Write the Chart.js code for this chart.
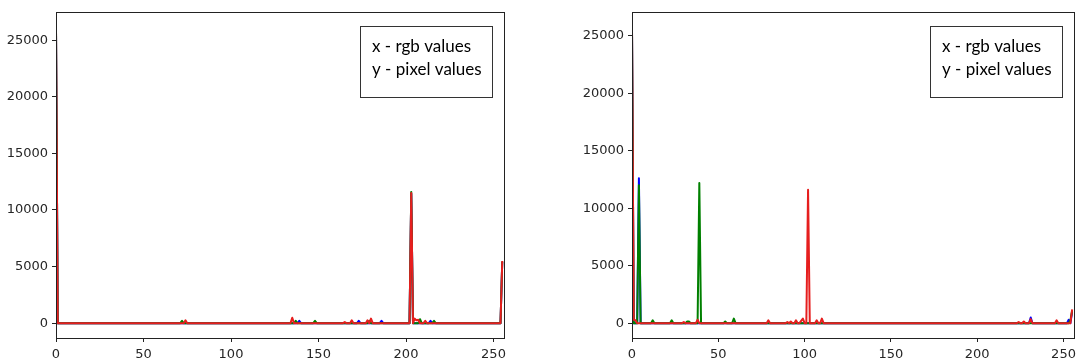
<!DOCTYPE html>
<html>
<head>
<meta charset="utf-8">
<script src="https://cdn.jsdelivr.net/npm/chart.js@4/dist/chart.umd.min.js"></script>
<style>
  body { margin: 0; background: #fff; }
  .wrap { position: absolute; top: 0; }
</style>
</head>
<body>
<div class="wrap" style="left:0"><canvas id="histLeft" width="540" height="362"></canvas></div>
<div class="wrap" style="left:540px"><canvas id="histRight" width="541" height="362"></canvas></div>
<script>
// histogram values: [bin, count] for bins that are not zero, everything else is 0
const leftBlue  = [[0, 26000], [139, 200], [173, 200], [186, 200], [203, 11450], [214, 200], [255, 5400]];
const leftGreen = [[0, 26100], [72, 200], [137, 200], [148, 200], [179, 200], [203, 11600], [208, 350], [216, 200], [255, 5450]];
const leftRed   = [[0, 26200], [74, 250], [135, 480], [165, 100], [169, 250], [178, 250], [180, 400],
                   [203, 11500], [205, 400], [206, 250], [207, 300], [211, 200], [255, 5500]];

const rightBlue  = [[0, 25500], [4, 12600], [231, 500], [253, 300], [255, 1000]];
const rightGreen = [[0, 25600], [4, 12000], [12, 250], [23, 250], [32, 150], [33, 150], [39, 12200],
                    [54, 150], [59, 400], [254, 250], [255, 1100]];
const rightRed   = [[0, 25800], [1, 300], [2, 250], [30, 100], [38, 300], [79, 250], [90, 100], [92, 150],
                    [95, 250], [98, 200], [99, 400], [102, 11600], [107, 250], [110, 400], [224, 100],
                    [227, 150], [231, 350], [246, 250], [255, 1200]];

const xTicks = [0, 50, 100, 150, 200, 250];
const yTicks = [0, 5000, 10000, 15000, 20000, 25000];
const noteLines = ['x - rgb values', 'y - pixel values'];

// 256 bins, same as cv2.calcHist output
function toBins(pairs) {
    const bins = new Array(256).fill(0);
    pairs.forEach(p => { bins[p[0]] = p[1]; });
    return bins.map((v, i) => ({ x: i, y: v }));
}

const frameAndNote = {
    id: 'frameAndNote',
    afterDraw(chart) {
        const { ctx, chartArea: a } = chart;
        ctx.save();
        ctx.strokeStyle = '#222';
        ctx.lineWidth = 1;
        ctx.strokeRect(Math.round(a.left) + 0.5, Math.round(a.top) + 0.5,
                       Math.round(a.right - a.left), Math.round(a.bottom - a.top));
        // text box in the upper right corner
        const bx = Math.round(a.right) - 144, by = Math.round(a.top) + 14;
        ctx.strokeStyle = '#333';
        ctx.strokeRect(bx + 0.5, by + 0.5, 132, 71);
        ctx.fillStyle = '#000';
        ctx.font = '17px Lato';
        ctx.textBaseline = 'middle';
        ctx.fillText(noteLines[0], bx + 12, by + 21);
        ctx.fillText(noteLines[1], bx + 12, by + 44);
        ctx.restore();
    }
};

function makeHist(id, blue, green, red, yMin, yMax, yWidth, padRight) {
    // order: red on top, then green, blue underneath (as plotted b, g, r)
    const line = (data, color, order) => ({
        data: toBins(data),
        borderColor: color,
        borderWidth: 2,
        borderJoinStyle: 'round',
        pointRadius: 0,
        tension: 0,
        fill: false,
        order: order
    });
    const tickFont = { family: 'DejaVu Sans', size: 13 };
    return new Chart(document.getElementById(id), {
        type: 'line',
        data: { datasets: [line(blue, '#0000ff', 3), line(green, '#008000', 2), line(red, '#e61e1e', 1)] },
        options: {
            responsive: false,
            animation: false,
            layout: { padding: { top: 8, right: padRight, left: 0, bottom: 0 } },
            plugins: { legend: { display: false }, tooltip: { enabled: false } },
            scales: {
                x: {
                    type: 'linear', min: 0, max: 256,
                    afterBuildTicks: s => { s.ticks = xTicks.map(v => ({ value: v })); },
                    afterFit: s => { s.height = 24; },
                    grid: { drawOnChartArea: false, tickLength: 4, color: '#222' },
                    border: { display: false },
                    ticks: { font: tickFont, color: '#262626', padding: 5, maxRotation: 0, callback: v => String(v) }
                },
                y: {
                    type: 'linear', min: yMin, max: yMax,
                    afterBuildTicks: s => { s.ticks = yTicks.map(v => ({ value: v })); },
                    afterFit: s => { s.width = yWidth; },
                    grid: { drawOnChartArea: false, tickLength: 4, color: '#222' },
                    border: { display: false },
                    ticks: { font: tickFont, color: '#262626', padding: 4, callback: v => String(v) }
                }
            }
        },
        plugins: [frameAndNote]
    });
}

makeHist('histLeft', leftBlue, leftGreen, leftRed, -1310, 27510, 56, 36);
makeHist('histRight', rightBlue, rightGreen, rightRed, -1290, 27090, 92, 3);
</script>
</body>
</html>
